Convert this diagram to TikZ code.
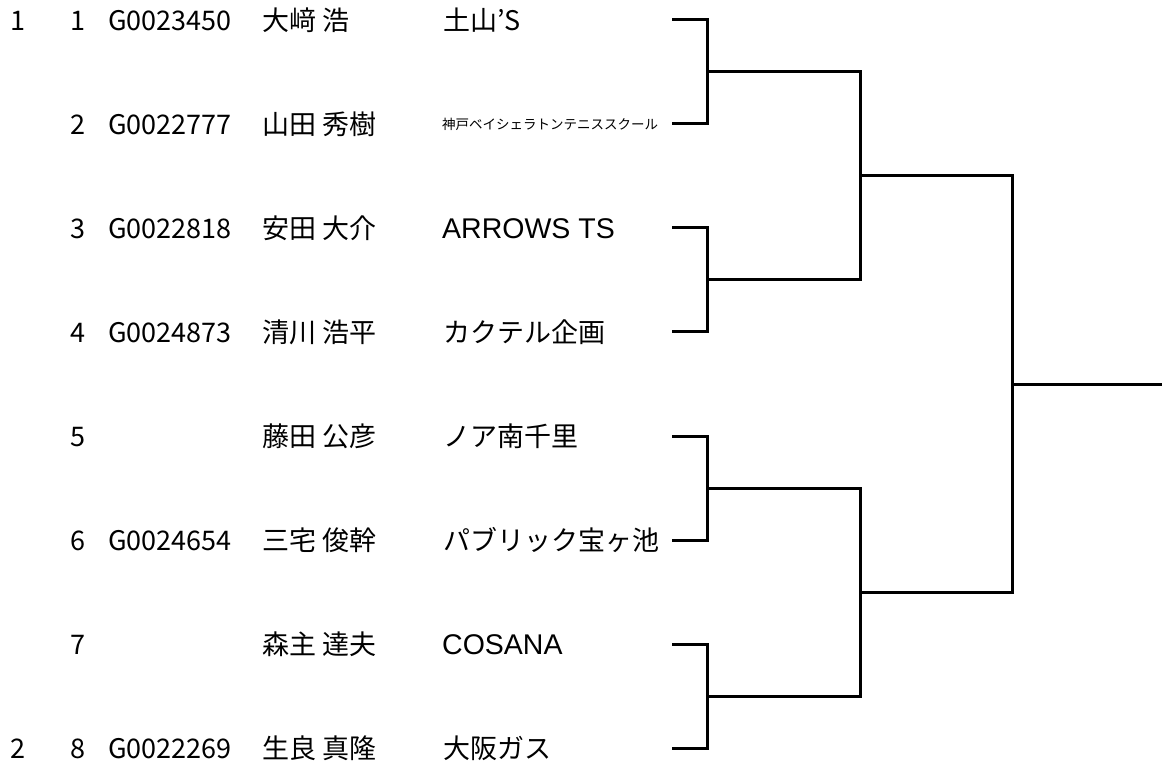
\documentclass[tikz,border=0pt]{standalone}
\usepackage{fontspec}
\setmainfont{Noto Sans CJK JP}
\newfontfamily\latinfont{Liberation Sans}
\usetikzlibrary{positioning}
\tikzstyle{entry} = [anchor=west, inner sep=0pt, text height=23.8pt, text depth=3.2pt, font=\fontsize{27}{32}\selectfont]
\tikzstyle{num} = [entry, anchor=east]
\tikzstyle{club} = [entry, font=\fontsize{27}{32}\selectfont]
\tikzstyle{smallclub} = [entry, text height=11.9pt, text depth=1.6pt, font=\fontsize{13.5}{16}\selectfont]
\tikzstyle{latinclub} = [entry, text height=20.4pt, text depth=0pt, font=\latinfont\fontsize{28.5}{33}\selectfont]
\tikzstyle{line} = [line width=3pt, line join=miter]

\begin{document}
\begin{tikzpicture}[x=1pt, y=-1pt]

    \useasboundingbox (0,0) rectangle (1162,767);

    % Seeds
    \node (seed1) [entry] at (10,20) {1};
    \node (seed2) [entry] at (10,748) {2};

    % Draw numbers
    \node (n1) [num] at (86,20) {1};
    \node (n2) [num] at (86,124) {2};
    \node (n3) [num] at (86,228) {3};
    \node (n4) [num] at (86,332) {4};
    \node (n5) [num] at (86,436) {5};
    \node (n6) [num] at (86,540) {6};
    \node (n7) [num] at (86,644) {7};
    \node (n8) [num] at (86,748) {8};

    % Registration IDs
    \node (id1) [entry] at (108,20) {G0023450};
    \node (id2) [entry] at (108,124) {G0022777};
    \node (id3) [entry] at (108,228) {G0022818};
    \node (id4) [entry] at (108,332) {G0024873};
    \node (id6) [entry] at (108,540) {G0024654};
    \node (id8) [entry] at (108,748) {G0022269};

    % Players
    \node (p1) [entry] at (262,20) {大﨑 浩};
    \node (p2) [entry] at (262,124) {山田 秀樹};
    \node (p3) [entry] at (262,228) {安田 大介};
    \node (p4) [entry] at (262,332) {清川 浩平};
    \node (p5) [entry] at (262,436) {藤田 公彦};
    \node (p6) [entry] at (262,540) {三宅 俊幹};
    \node (p7) [entry] at (262,644) {森主 達夫};
    \node (p8) [entry] at (262,748) {生良 真隆};

    % Clubs
    \node (c1) [club] at (443,20) {土山'S};
    \node (c2) [smallclub] at (442,124) {神戸ベイシェラトンテニススクール};
    \node (c3) [latinclub] at (442,228) {ARROWS TS};
    \node (c4) [club] at (443,332) {カクテル企画};
    \node (c5) [club] at (443,436) {ノア南千里};
    \node (c6) [club] at (443,540) {パブリック宝ヶ池};
    \node (c7) [latinclub] at (442,644) {COSANA};
    \node (c8) [club] at (443,748) {大阪ガス};

    % Line ends and rounds
    \coordinate (e1) at (672,20);
    \coordinate (e2) at (672,124);
    \coordinate (e3) at (672,228);
    \coordinate (e4) at (672,332);
    \coordinate (e5) at (672,436);
    \coordinate (e6) at (672,540);
    \coordinate (e7) at (672,644);
    \coordinate (e8) at (672,748);
    \coordinate (ra) at (707,72);
    \coordinate (rb) at (707,280);
    \coordinate (rc) at (707,488);
    \coordinate (rd) at (707,696);
    \coordinate (sa) at (860,176);
    \coordinate (sb) at (860,592);
    \coordinate (fin) at (1012,384);
    \coordinate (win) at (1162,384);

    % Bracket
    \draw [line] (e1) -| (ra);
    \draw [line] (e2) -| (ra);
    \draw [line] (e3) -| (rb);
    \draw [line] (e4) -| (rb);
    \draw [line] (e5) -| (rc);
    \draw [line] (e6) -| (rc);
    \draw [line] (e7) -| (rd);
    \draw [line] (e8) -| (rd);
    \draw [line] (ra) -| (sa);
    \draw [line] (rb) -| (sa);
    \draw [line] (rc) -| (sb);
    \draw [line] (rd) -| (sb);
    \draw [line] (sa) -| (fin);
    \draw [line] (sb) -| (fin);
    \draw [line] (fin) -- (win);

\end{tikzpicture}
\end{document}
